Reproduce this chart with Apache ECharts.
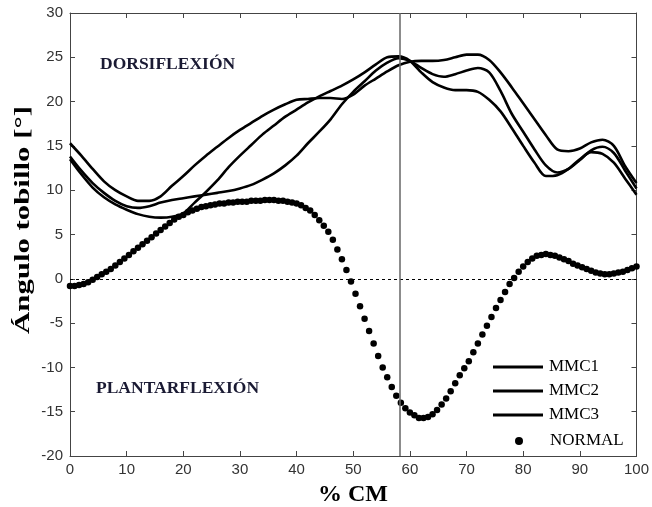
<!DOCTYPE html>
<html>
<head>
<meta charset="utf-8">
<script src="https://cdn.jsdelivr.net/npm/echarts@6/dist/echarts.min.js"></script>
<style>html,body{margin:0;padding:0;background:#fff}#c{width:652px;height:507px}</style>
</head>
<body>
<div id="c"></div>
<script>
// ---- data ----
var xMMC = [0,2,4,6,8,10,12,14,16,18,20,22,24,26,28,30,32,34,36,38,40,42,44,46,48,50,52,54,56,58,60,62,64,66,68,70,72,74,76,78,80,82,84,86,88,90,92,94,96,98,100];
var mmc1 = [15.3,13.9,12.4,11.0,10.0,9.3,8.8,8.8,9.3,10.5,11.6,12.8,13.9,14.9,15.9,16.8,17.6,18.4,19.1,19.7,20.2,20.3,20.4,20.4,20.3,20.8,21.8,22.6,23.4,24.1,24.5,24.6,24.6,24.7,25.0,25.3,25.3,24.7,23.3,21.6,19.8,18.0,16.2,14.6,14.4,14.7,15.4,15.7,15.0,12.7,10.8];
var mmc2 = [13.8,12.2,10.8,9.7,8.8,8.2,8.0,8.2,8.6,8.9,9.1,9.3,9.5,9.7,9.9,10.2,10.6,11.2,11.9,12.8,13.9,15.3,16.6,18.0,19.7,21.1,22.3,23.5,24.4,24.9,24.6,23.8,23.1,22.8,23.1,23.5,23.8,23.3,21.2,18.6,16.6,14.6,12.8,12.0,12.4,13.4,14.5,14.9,14.2,12.2,10.2];
var mmc3 = [13.5,11.8,10.3,9.2,8.4,7.8,7.3,7.0,6.9,7.0,7.4,8.6,9.8,11.1,12.6,13.9,15.1,16.3,17.3,18.3,19.1,19.9,20.6,21.2,21.8,22.5,23.3,24.2,25.0,25.1,24.6,23.3,22.2,21.6,21.3,21.3,21.1,20.2,18.9,17.0,15.0,13.1,11.6,11.7,12.4,13.5,14.3,14.1,13.1,11.3,9.5];
var xNormal = [0,0.8,1.6,2.4,3.2,4,4.8,5.6,6.4,7.2,8,8.8,9.6,10.4,11.2,12,12.8,13.6,14.4,15.2,16,16.8,17.6,18.4,19.2,20,20.8,21.6,22.4,23.2,24,24.8,25.6,26.4,27.2,28,28.8,29.6,30.4,31.2,32,32.8,33.6,34.4,35.2,36,36.8,37.6,38.4,39.2,40,40.8,41.6,42.4,43.2,44,44.8,45.6,46.4,47.2,48,48.8,49.6,50.4,51.2,52,52.8,53.6,54.4,55.2,56,56.8,57.6,58.4,59.2,60,60.8,61.6,62.4,63.2,64,64.8,65.6,66.4,67.2,68,68.8,69.6,70.4,71.2,72,72.8,73.6,74.4,75.2,76,76.8,77.6,78.4,79.2,80,80.8,81.6,82.4,83.2,84,84.8,85.6,86.4,87.2,88,88.8,89.6,90.4,91.2,92,92.8,93.6,94.4,95.2,96,96.8,97.6,98.4,99.2,100];
var normal = [-0.8,-0.8,-0.7,-0.6,-0.4,-0.1,0.2,0.5,0.8,1.1,1.5,1.9,2.3,2.7,3.1,3.5,3.9,4.3,4.7,5.1,5.5,5.9,6.3,6.7,7.0,7.2,7.5,7.7,7.9,8.1,8.2,8.3,8.4,8.5,8.5,8.6,8.6,8.7,8.7,8.7,8.8,8.8,8.8,8.9,8.9,8.9,8.8,8.8,8.7,8.6,8.5,8.3,8.0,7.7,7.2,6.6,6.0,5.3,4.4,3.3,2.2,1.0,-0.3,-1.7,-3.1,-4.5,-5.9,-7.3,-8.7,-10.0,-11.1,-12.2,-13.2,-14.0,-14.6,-15.1,-15.4,-15.7,-15.7,-15.6,-15.3,-14.8,-14.2,-13.5,-12.7,-11.8,-10.9,-10.1,-9.3,-8.3,-7.3,-6.3,-5.3,-4.3,-3.3,-2.4,-1.5,-0.6,0.1,0.8,1.4,1.9,2.3,2.6,2.7,2.8,2.7,2.6,2.4,2.2,2.0,1.7,1.5,1.3,1.1,0.9,0.7,0.6,0.5,0.5,0.6,0.7,0.8,1.0,1.2,1.4];
var seriesNames = ['MMC1','MMC2','MMC3','NORMAL'];
var verticalMarkX = 58.2;
var zeroLineY = 0;
var xTitle = '% CM';
var yTitle = 'Ángulo tobillo [°]';
var annotTop = 'DORSIFLEXIÓN';
var annotBottom = 'PLANTARFLEXIÓN';

function pairs(xs, ys){ return xs.map(function(x,i){ return [x, ys[i]]; }); }

var SERIF = '"Liberation Serif","Times New Roman",serif';
var SANS = '"Liberation Sans",Arial,sans-serif';
var axisColor = '#444';

var chart = echarts.init(document.getElementById('c'), null, {renderer:'canvas'});

function lineSeries(name, ys){
  return {
    name: name, type: 'line', xAxisIndex: 0, yAxisIndex: 0,
    data: pairs(xMMC, ys), smooth: 0.3, showSymbol: false, symbol: 'none',
    lineStyle: {color: '#000', width: 2.6}, itemStyle: {color: '#000'},
    emphasis: {disabled: true}, z: 3, animation: false
  };
}

var option = {
  animation: false,
  grid: {left: 70, right: 15, top: 13, bottom: 51, containLabel: false},
  xAxis: [{
    type: 'value', min: 0, max: 100, interval: 10, position: 'bottom',
    axisLine: {show: true, onZero: false, lineStyle: {color: axisColor, width: 1}},
    axisTick: {show: true, inside: true, length: 5, lineStyle: {color: axisColor}},
    axisLabel: {color: '#333', fontFamily: SANS, fontSize: 15, margin: 6},
    splitLine: {show: false}
  },{
    type: 'value', min: 0, max: 100, interval: 10, position: 'top',
    axisLine: {show: true, onZero: false, lineStyle: {color: axisColor, width: 1}},
    axisTick: {show: true, inside: true, length: 5, lineStyle: {color: axisColor}},
    axisLabel: {show: false}, splitLine: {show: false}
  }],
  yAxis: [{
    type: 'value', min: -20, max: 30, interval: 5, position: 'left',
    axisLine: {show: true, onZero: false, lineStyle: {color: axisColor, width: 1}},
    axisTick: {show: true, inside: true, length: 5, lineStyle: {color: axisColor}},
    axisLabel: {color: '#333', fontFamily: SANS, fontSize: 15, margin: 7},
    splitLine: {show: false}
  },{
    type: 'value', min: -20, max: 30, interval: 5, position: 'right',
    axisLine: {show: true, onZero: false, lineStyle: {color: axisColor, width: 1}},
    axisTick: {show: true, inside: true, length: 5, lineStyle: {color: axisColor}},
    axisLabel: {show: false}, splitLine: {show: false}
  }],
  legend: [{
    data: [{name: seriesNames[0]},{name: seriesNames[1]},{name: seriesNames[2]}],
    orient: 'vertical', left: 493, top: 357, padding: 0,
    icon: 'rect', itemWidth: 50, itemHeight: 3, itemGap: 4,
    textStyle: {fontFamily: SERIF, fontSize: 17, color: '#000', lineHeight: 20, padding: [0,0,0,1]},
    selectedMode: false
  },{
    data: [{name: seriesNames[3]}],
    orient: 'vertical', left: 515, top: 431, padding: 0,
    icon: 'circle', itemWidth: 8, itemHeight: 8,
    textStyle: {fontFamily: SERIF, fontSize: 17, color: '#000', lineHeight: 20, padding: [0,0,0,22]},
    selectedMode: false
  }],
  series: [
    lineSeries(seriesNames[0], mmc1),
    lineSeries(seriesNames[1], mmc2),
    lineSeries(seriesNames[2], mmc3),
    {
      name: seriesNames[3], type: 'scatter', data: pairs(xNormal, normal),
      symbol: 'circle', symbolSize: 6.5, itemStyle: {color: '#000', opacity: 1},
      emphasis: {disabled: true}, z: 4,
      markLine: {
        silent: true, symbol: 'none', animation: false,
        label: {show: false}, emphasis: {disabled: true},
        data: [
          {yAxis: zeroLineY, lineStyle: {type: [3,3], color: '#000', width: 1}},
          {xAxis: verticalMarkX, lineStyle: {type: 'solid', color: '#666', width: 1.5}}
        ]
      }
    }
  ],
  graphic: [
    {type: 'text', x: 23, y: 220, rotation: Math.PI/2, scaleX: 1.4, scaleY: 1,
     style: {text: yTitle, font: 'bold 22px ' + SERIF, fill: '#000', align: 'center', verticalAlign: 'middle'}},
    {type: 'text', x: 353, y: 495,
     style: {text: xTitle, font: 'bold 24px ' + SERIF, fill: '#000', align: 'center', verticalAlign: 'middle'}},
    {type: 'text', x: 100, y: 64,
     style: {text: annotTop, font: 'bold 17.5px ' + SERIF, fill: '#1a1a33', align: 'left', verticalAlign: 'middle'}},
    {type: 'text', x: 96, y: 388,
     style: {text: annotBottom, font: 'bold 17.5px ' + SERIF, fill: '#1a1a33', align: 'left', verticalAlign: 'middle'}}
  ]
};
chart.setOption(option);
</script>
</body>
</html>
